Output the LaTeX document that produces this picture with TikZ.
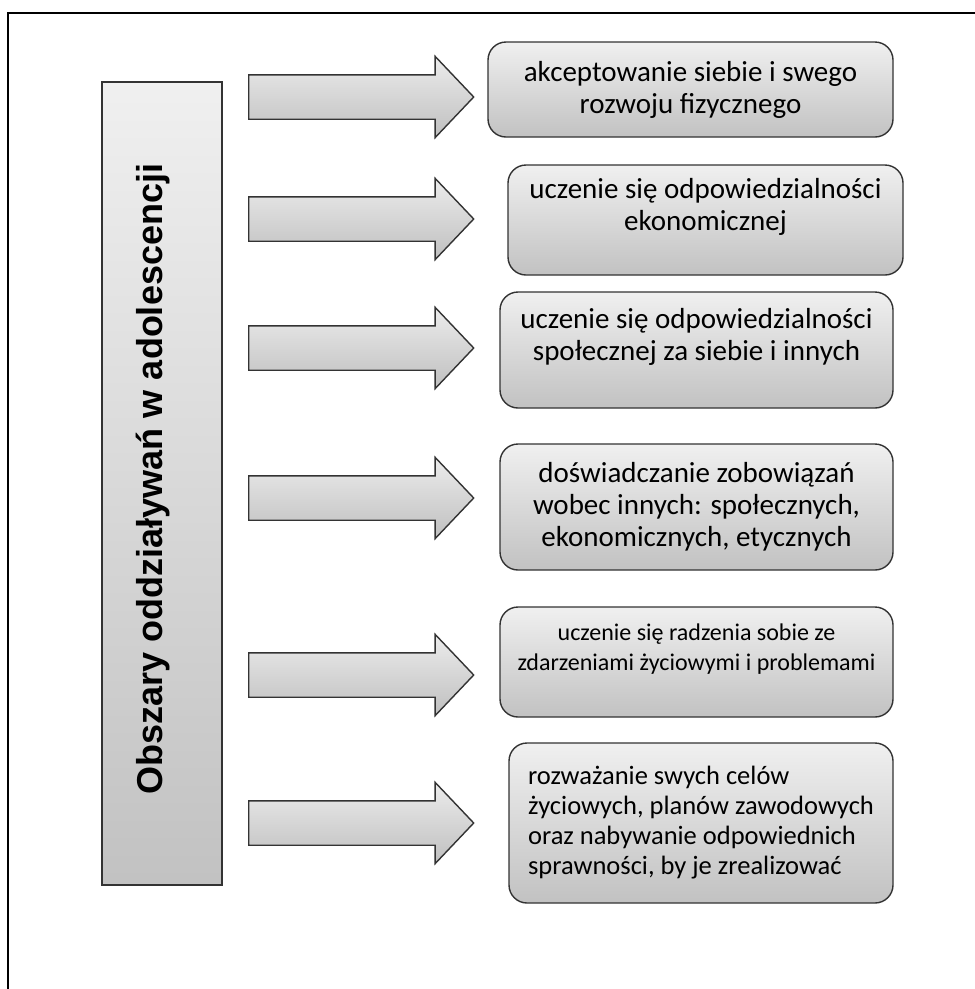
\documentclass[tikz,border=0pt]{standalone}
\usepackage{fontspec}
\setmainfont{Carlito}
\newfontfamily\headfont{Liberation Sans}
\usetikzlibrary{shapes.arrows}
\begin{document}
\begin{tikzpicture}[x=1pt,y=-1pt,
    box/.style={draw=black!80, line width=1.4pt, rounded corners=18pt,
      top color=gray!12, bottom color=gray!48, align=center, inner sep=0pt,
      font=\fontsize{29}{32}\selectfont},
    blockarrow/.style={single arrow, draw=black!80, line width=1.4pt,
      top color=gray!15, bottom color=gray!50, minimum height=225pt,
      minimum width=80pt, single arrow head extend=18.5pt,
      single arrow tip angle=93, single arrow head indent=0pt,
      inner xsep=0pt, inner ysep=21.5pt, anchor=tail}]
    \useasboundingbox (0,0) rectangle (975,989);
    \fill[white] (0,0) rectangle (975,989);
    \draw[line width=2.4pt] (8,989) -- (8,13) -- (975,13);
    % lewa kolumna
    \node[draw=black!80, line width=1.4pt, top color=gray!12, bottom color=gray!48,
      minimum width=120pt, minimum height=803pt, inner sep=0pt] (obszary) at (162,483.5) {};
    \node[rotate=90, anchor=base, font=\headfont\bfseries\fontsize{36}{40}\selectfont]
      (tytul) at (162,479) {Obszary oddziaływań w adolescencji};
    % strzalki
    \foreach \y/\n in {97/1,219/2,348/3,498/4,675/5,823/6}
      \node[blockarrow] (s\n) at (248,\y) {};
    % pola
    \node[box, minimum width=405pt, minimum height=95pt] (b1) at (690.5,89.5)
      {akceptowanie siebie i swego\\rozwoju fizycznego};
    \node[box, minimum width=395pt, minimum height=110pt] (b2) at (705.5,220)
      {uczenie się odpowiedzialności\\ekonomicznej\\\mbox{}};
    \node[box, minimum width=393pt, minimum height=116pt] (b3) at (696.5,350)
      {uczenie się odpowiedzialności\\społecznej za siebie i innych\\\mbox{}};
    \node[box, minimum width=393pt, minimum height=126pt] (b4) at (696.5,507)
      {doświadczanie zobowiązań\\wobec innych: społecznych,\\ekonomicznych, etycznych};
    \node[box, minimum width=393pt, minimum height=110pt, font=\fontsize{24}{30}\selectfont]
      (b5) at (696.5,662) {uczenie się radzenia sobie ze\\zdarzeniami życiowymi i problemami\\\mbox{}};
    \node[box, align=left, minimum width=384pt, minimum height=160pt, font=\fontsize{26.5}{30}\selectfont]
      (b6) at (701,823) {rozważanie swych celów\\życiowych, planów zawodowych\\oraz nabywanie odpowiednich\\sprawności, by je zrealizować};
  \end{tikzpicture}
\end{document}
